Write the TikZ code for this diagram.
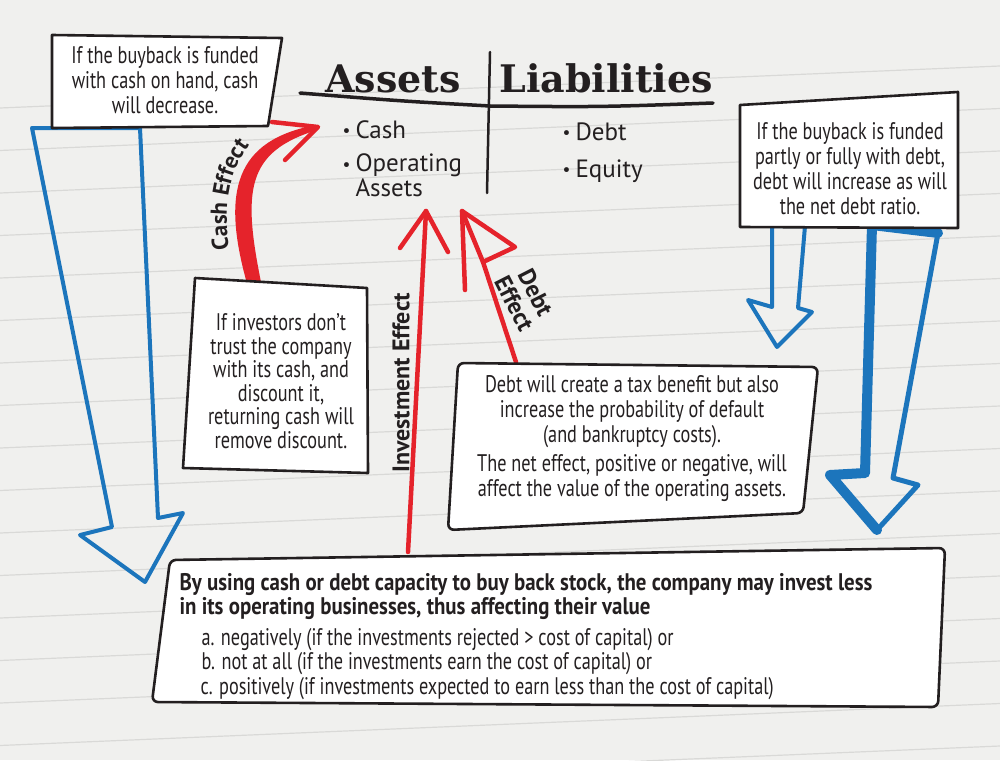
\documentclass[tikz,border=0pt]{standalone}
\usepackage{fontspec}
\setmainfont{PT Sans}
\newfontfamily\cond{PT Sans}[FakeStretch=0.76]
\newfontfamily\condb{PT Sans Bold}[FakeStretch=0.87]
\newfontfamily\slab{DejaVu Serif}
\usetikzlibrary{decorations.text}
\definecolor{bg}{HTML}{F0F0EE}
\definecolor{rulec}{HTML}{D9D9D7}
\definecolor{ablue}{HTML}{1C75BC}
\definecolor{ared}{HTML}{E5232B}
\definecolor{ink}{HTML}{231F20}
\newcommand{\bul}{\makebox[13pt][l]{\raisebox{1.5pt}{\scalebox{0.7}{\textbullet}}}}
\begin{document}
\begin{tikzpicture}[x=1pt,y=-1pt,
  box/.style={draw=ink, line width=2.6pt, fill=white, line join=round},
  txt/.style={font=\cond\fontsize{24}{25}\selectfont, align=center, text=ink},
  bluearr/.style={draw=ablue, line width=4pt, line join=round, line cap=round},
  redarr/.style={draw=ared, line width=4.5pt, line cap=round, line join=round},
  lbl/.style={font=\bfseries\fontsize{24}{24}\selectfont, text=ink, align=center},
  item/.style={font=\fontsize{25}{22}\selectfont, text=ink, anchor=base west, align=left},
  head/.style={font=\slab\bfseries\fontsize{38}{38}\selectfont, text=ink, anchor=base},
]
\fill[bg] (0,0) rectangle (1000,760);
\useasboundingbox (0,0) rectangle (1000,760);
\foreach \k in {0,...,18} { \draw[rulec, line width=1.2pt] (0,{108+42.5*\k}) -- (1000,{108+42.5*\k-42}); }

% coordinates for arrows
\coordinate (bl1) at (32,128);
\coordinate (bl2) at (140,128);
\coordinate (btip) at (145,582);
\coordinate (rs1) at (772,226);
\coordinate (rs2) at (805,226);
\coordinate (rstip) at (777,347);
\coordinate (rb1) at (872,225);
\coordinate (rb2) at (938,233);
\coordinate (rbtip) at (877,530);

% blue arrows
\draw[bluearr] (bl1) -- (112,527) -- (80,535) -- (btip) -- (183,513) -- (158,518) -- (bl2) -- cycle;
\draw[bluearr] (rs1) -- (772,307) -- (748,300) -- (rstip) -- (812,312) -- (798,308) -- (rs2) -- cycle;
\draw[bluearr, line width=5pt] (rb1) -- (865,473) -- (830,475) -- (rbtip) -- (918,485) -- (893,478) -- (rb2) -- cycle;
\draw[bluearr, line width=10pt] (rb2) -- (rb1) -- (865,473) -- (830,475) -- (rbtip);

% header
\node[head] (assets) at (393,92) {Assets};
\node[head] (liab) at (606,92) {Liabilities};
\draw[ink, line width=3.5pt, line cap=round] (300,93) .. controls (400,101) .. (490,106) .. controls (600,107) .. (713,103);
\draw[ink, line width=2.5pt, line cap=round] (490,52) -- (487,193);
\node[item] (cash) at (339,138) {\bul Cash};
\node[item] (opa) at (339,196) {\bul Operating\\\hspace*{13pt}Assets};
\node[item] (debt) at (559,140) {\bul Debt};
\node[item] (eq) at (559,177) {\bul Equity};

% red arrows
\coordinate (cstart) at (255,285);
\coordinate (ctip) at (318,127);
\fill[ared] (248,287) .. controls (220,190) and (236,140) .. (316,125) -- (317,130) .. controls (246,152) and (242,190) .. (262,287) -- cycle;
\draw[redarr] (272,122) -- (ctip) -- (285,160);
\coordinate (itip) at (426,211);
\draw[redarr] (408,552) -- (itip);
\draw[redarr] (400,248) -- (itip) -- (448,252);
\coordinate (dtip) at (462,211);
\draw[redarr] (516,362) -- (483,262) -- (dtip);
\draw[redarr] (465,290) -- (dtip) -- (515,247) -- (483,262);

\path[decorate, decoration={text along path, text color=ink,
   text={|\bfseries\fontsize{23}{23}\selectfont|Cash Effect}}]
   (229,249) .. controls (222,196) and (230,152) .. (276,121);
\node[lbl, rotate=90] (invlbl) at (401,383) {Investment Effect};
\node[lbl, rotate=-63] (debtlbl) at (525,298) {Debt\\Effect};

% boxes
\draw[box] (52,35) -- (282,38) -- (268,126) -- (52,128) -- cycle;
\node[txt] (t1) at (165,80) {If the buyback is funded\\with cash on hand, cash\\will decrease.};

\draw[box] (740,105) -- (958,92) -- (958,228) -- (740,227) -- cycle;
\node[txt] (t2) at (850,169) {If the buyback is funded\\partly or fully with debt,\\debt will increase as will\\the net debt ratio.};

\draw[box] (195,278) -- (367,288) -- (368,473) -- (183,468) -- cycle;
\node[txt, font=\cond\fontsize{24}{23.5}\selectfont] (t3) at (281,381) {If investors don’t\\trust the company\\with its cash, and\\discount it,\\returning cash will\\remove discount.};

\draw[box, rounded corners=6pt] (458,363) -- (818,367) -- (803,513) -- (448,530) -- cycle;
\node[txt] (t4) at (632,439) {Debt will create a tax benefit but also\\increase the probability of default\\(and bankruptcy costs).\\[4pt]The net effect, positive or negative, will\\affect the value of the operating assets.};

\draw[box, rounded corners=6pt] (170,560) -- (945,548) -- (938,707) -- (152,702) -- cycle;
\node[anchor=base west, align=left, text=ink, font=\cond\fontsize{24}{24.5}\selectfont] (t5) at (176,694) {\condb By using cash or debt capacity to buy back stock, the company may invest less\\\condb in its operating businesses, thus affecting their value\\[6pt]\hspace*{22pt}a. negatively (if the investments rejected > cost of capital) or\\\hspace*{22pt}b. not at all (if the investments earn the cost of capital) or\\\hspace*{21pt}c. positively (if investments expected to earn less than the cost of capital)};
\end{tikzpicture}
\end{document}
